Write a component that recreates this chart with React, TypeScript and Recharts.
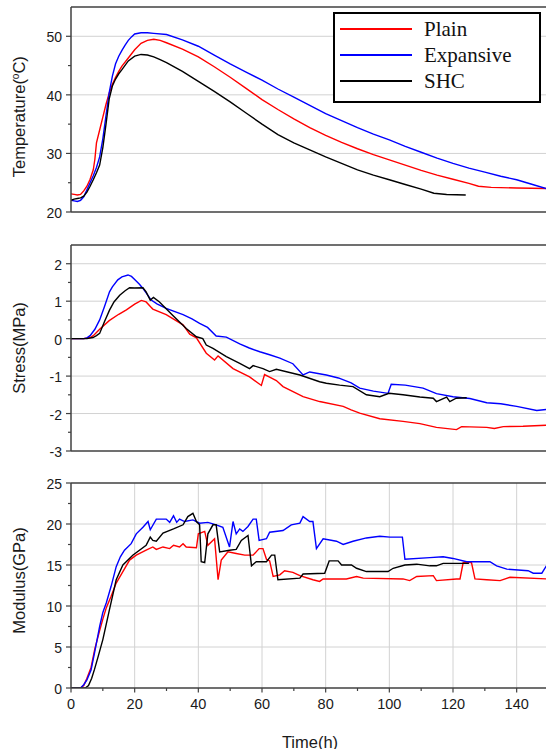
import React from 'react';
import { LineChart, Line, XAxis, YAxis, CartesianGrid, ReferenceLine } from 'recharts';

// ---------- series names / colours ----------
const seriesNames = ['Plain', 'Expansive', 'SHC'];
const seriesColors = ['#ff0000', '#0000ff', '#000000'];

// ---------- x axis ----------
const timeMajor = [0, 20, 40, 60, 80, 100, 120, 140];
const timeMinor = [10, 30, 50, 70, 90, 110, 130];
const timeGrid = [20, 40, 60, 80, 100, 120, 140];

// ---------- temperature panel ----------
const tempMajor = [20, 30, 40, 50];
const tempMinor = [25, 35, 45];
const tempGrid = [30, 40, 50];
const tempPlain = [[0,23.1],[1,23.0],[2,22.9],[3,23.0],[4,23.6],[5,24.4],[6,25.6],[7,27.2],[7.5,29],[8,31.8],[9,34],[10,36.2],[11,38.4],[12,40.3],[13,41.8],[14,43],[15,44],[16,44.9],[18,46.3],[20,47.7],[22,48.8],[24,49.3],[26,49.5],[28,49.3],[30,48.9],[35,47.8],[40,46.5],[45,44.8],[50,43.0],[55,41.1],[60,39.2],[65,37.5],[70,35.9],[75,34.4],[80,33.1],[85,31.9],[90,30.8],[95,29.8],[100,28.9],[105,28.0],[110,27.1],[115,26.3],[120,25.6],[125,24.9],[128,24.4],[132,24.2],[140,24.1],[150,24.0]];
const tempExpansive = [[0,22.0],[1,21.9],[2,21.8],[3,22.0],[4,22.6],[5,23.8],[6,25],[7,26.2],[8,27.6],[9,29.4],[10,32.5],[11,36.5],[12,40.4],[13,43.2],[14,45.3],[15,46.6],[16,47.6],[17,48.5],[18,49.3],[19,49.9],[20,50.4],[22,50.6],[24,50.6],[26,50.5],[30,50.3],[35,49.4],[40,48.3],[45,46.8],[50,45.3],[55,43.9],[60,42.5],[65,41.0],[70,39.6],[75,38.2],[80,36.8],[85,35.6],[90,34.4],[95,33.3],[100,32.3],[105,31.2],[110,30.2],[115,29.2],[120,28.3],[125,27.5],[130,26.8],[135,26.1],[140,25.5],[145,24.7],[150,23.9]];
const tempSHC = [[0,22.0],[1,22.2],[2,22.3],[3,22.4],[4,22.7],[5,23.4],[6,24.4],[7,25.5],[8,26.7],[9,28],[10,31],[11,35],[12,39.3],[13,41.5],[14,42.7],[15,43.6],[16,44.3],[18,45.8],[20,46.6],[22,46.9],[24,46.8],[26,46.5],[28,46.0],[30,45.5],[35,44.0],[40,42.3],[45,40.6],[50,38.8],[55,36.9],[60,35.0],[65,33.2],[70,31.8],[75,30.6],[80,29.4],[85,28.3],[90,27.2],[95,26.3],[100,25.5],[105,24.7],[110,23.9],[114,23.2],[118,23.0],[124,22.9]];

// ---------- stress panel ----------
const stressMajor = [-3, -2, -1, 0, 1, 2];
const stressMinor = [-2.5, -1.5, -0.5, 0.5, 1.5];
const stressGrid = [-2, -1, 0, 1, 2];
const stressPlain = [[0,0],[4,0],[6,0.03],[7,0.08],[9,0.25],[12,0.48],[15,0.65],[17.4,0.77],[20,0.92],[22.1,1.02],[23.6,0.98],[25,0.85],[25.7,0.79],[29.9,0.64],[35.2,0.37],[37.3,0.12],[39.4,0.02],[42.5,-0.39],[45.1,-0.57],[46.2,-0.46],[50.9,-0.8],[56.1,-1.02],[59.8,-1.25],[60.8,-0.96],[62.4,-1.03],[64.5,-1.12],[66.6,-1.28],[72.9,-1.55],[78.1,-1.68],[85.5,-1.81],[88,-1.9],[90.7,-1.99],[97,-2.14],[104.3,-2.21],[109.6,-2.27],[114.8,-2.37],[121.1,-2.43],[122.7,-2.35],[130.6,-2.37],[133,-2.4],[135.8,-2.35],[142,-2.34],[149.5,-2.31]];
const stressExpansive = [[0,0],[4,0],[5,0.02],[6,0.08],[7.5,0.25],[9,0.5],[10.5,0.85],[12.1,1.25],[13,1.38],[14.7,1.57],[16,1.65],[17.9,1.70],[19,1.66],[20,1.58],[21.5,1.45],[22.6,1.34],[25.2,1.03],[27,0.93],[29.9,0.81],[32,0.74],[35.2,0.64],[38,0.53],[40.4,0.41],[42.9,0.3],[45.6,0.07],[48.8,0.04],[53,-0.14],[56,-0.25],[59.3,-0.35],[62.4,-0.43],[65.6,-0.52],[69.7,-0.67],[72.9,-0.97],[75,-0.89],[80.2,-0.97],[84,-1.05],[88,-1.18],[90.7,-1.32],[95,-1.4],[99.6,-1.46],[100.6,-1.22],[105,-1.24],[110.6,-1.32],[114.8,-1.47],[120,-1.55],[125.3,-1.6],[130.6,-1.71],[135,-1.74],[140,-1.81],[146.3,-1.92],[149.5,-1.89]];
const stressSHC = [[0,0],[5,0],[6.9,0.03],[8,0.08],[9,0.14],[10.5,0.45],[12.1,0.76],[13.5,0.98],[15.3,1.16],[17,1.28],[18.4,1.36],[20,1.35],[22.6,1.36],[23.6,1.25],[24.9,1.03],[25.9,1.10],[27.8,0.98],[32,0.62],[36.2,0.27],[39.4,0.05],[41.4,0.0],[42.5,-0.17],[44.6,-0.26],[48.8,-0.48],[53,-0.66],[56.1,-0.8],[57.2,-0.72],[60.3,-0.8],[62.4,-0.88],[64.5,-0.82],[71.9,-0.97],[78.1,-1.15],[80.2,-1.19],[84.4,-1.24],[88.6,-1.28],[92.8,-1.5],[97,-1.55],[99.9,-1.46],[104.3,-1.5],[109.6,-1.56],[113.8,-1.59],[114.8,-1.68],[118,-1.56],[119,-1.68],[121,-1.59],[124.3,-1.58]];

// ---------- modulus panel ----------
const modMajor = [0, 5, 10, 15, 20, 25];
const modMinor = [2.5, 7.5, 12.5, 17.5, 22.5];
const modGrid = [5, 10, 15, 20];
const modPlain = [[0,0],[3,0],[4,0.3],[5,1.2],[6.3,2.5],[7.5,4.8],[9,7.0],[10,8.4],[11.1,9.8],[12.6,11.2],[14.2,12.8],[16.3,14.2],[18.4,15.6],[20.5,16.2],[23.6,16.8],[25.7,17.2],[26.8,16.9],[28.9,17.2],[31,17.0],[32.2,17.4],[34.1,17.2],[35.2,17.6],[36.2,17.2],[39.4,17.1],[40,18.8],[42,19.1],[43,17.4],[45.1,18.2],[46.2,13.2],[47.2,15.6],[49.3,16.6],[51.9,16.4],[54.6,16.2],[57.2,16.2],[59.1,17.0],[60.3,17.0],[61.4,15.7],[62.4,15.5],[63.5,13.6],[65.6,13.8],[67.1,14.3],[69.7,14.1],[71.9,13.7],[76,13.2],[78.1,13.0],[79.2,13.3],[86.5,13.3],[89.7,13.6],[91.8,13.4],[104.3,13.3],[106.4,13.1],[108.6,13.6],[113.8,13.7],[114.8,13.1],[121.1,13.3],[122.2,13.3],[123.2,15.3],[125.8,15.3],[126.9,13.3],[130.6,13.2],[134.8,13.1],[137.9,13.5],[149.5,13.3]];
const modExpansive = [[0,0],[3,0],[4,0.4],[5,1.0],[6.3,2.2],[7.5,4.5],[9,7.5],[10,9.2],[11.1,10.4],[12.6,12.4],[14.2,14.8],[15.5,16],[16.8,16.8],[18.9,17.6],[20.5,18.8],[22.6,19.6],[24.2,20.3],[24.9,19.3],[26.8,20.6],[29.9,20.6],[31,20.2],[32.2,21.0],[33.2,20.2],[34.1,20.6],[35.7,20.3],[38.3,20.5],[40.4,20.1],[43,20.2],[45.6,19.9],[47.7,19.6],[49.8,17.2],[50.9,20.3],[51.9,18.8],[53,19.4],[54,19.1],[55.6,19.7],[57.2,20.6],[58.2,20.6],[59.1,18.0],[61.4,18.2],[62.4,19.0],[66.6,19.2],[69.2,19.9],[71.9,20.1],[72.9,20.9],[75,20.3],[76,20.3],[77.1,17.0],[79.2,18.2],[83.4,17.9],[85.5,17.5],[88.6,17.9],[92.8,18.3],[97,18.5],[100.2,18.4],[104.1,18.4],[104.9,15.7],[112.7,15.9],[116.9,16.0],[120,15.8],[124.3,15.4],[131.6,15.4],[133.7,14.9],[136.9,14.5],[143.6,14.3],[145.2,14.0],[147.9,14.0],[149.5,15.0]];
const modSHC = [[0,0],[4.5,0],[5.5,0.3],[6.5,1.2],[7.4,2.3],[8.5,3.8],[10,5.9],[12.1,9.6],[14.2,13.2],[16.3,15.0],[19.4,16.2],[23.6,17.4],[24.9,18.4],[25.7,18.0],[26.8,17.9],[28.9,18.9],[32.2,19.4],[35.2,19.9],[36.7,20.9],[38.3,21.3],[39.4,20.3],[40.4,19.9],[40.9,15.4],[42,15.3],[43,18.8],[44.6,19.9],[45.6,19.9],[46.7,16.6],[49.8,16.8],[51.9,16.9],[53.5,18.0],[55.6,18.6],[56.7,14.9],[58.2,15.4],[61.4,15.4],[63,16.2],[64,16.2],[65,13.2],[71.9,13.4],[72.9,13.9],[79.7,14.0],[81.1,15.5],[83.9,15.5],[85,15.0],[88.1,15.0],[89.7,14.6],[92.8,14.2],[99.6,14.2],[101.2,14.6],[104.9,15.0],[108.6,15.1],[112.7,14.9],[114.8,14.9],[116.9,15.2],[125,15.2]];

const AXIS = '#404040';
const GRID = '#d2d2d2';
const SANS = '"Liberation Sans", Arial, Helvetica, sans-serif';
const SERIF = '"Liberation Serif", "Times New Roman", serif';

const toPts = (arr: number[][]) => arr.map(([t, v]) => ({ t, v }));

const makeYTick = (majors: number[]) => (props: any) => {
  const { x, y, payload } = props;
  const isMajor = majors.includes(payload.value);
  return (
    <g>
      <line x1={x} x2={x - (isMajor ? 5 : 3)} y1={y} y2={y} stroke={AXIS} strokeWidth={1.2} />
      {isMajor && (
        <text x={x - 9} y={y} dy={6} textAnchor="end" fontSize={14} fill="#1a1a1a" fontFamily={SANS}>
          {payload.value}
        </text>
      )}
    </g>
  );
};

const makeXTick = (majors: number[]) => (props: any) => {
  const { x, y, payload } = props;
  const isMajor = majors.includes(payload.value);
  return (
    <g>
      <line x1={x} x2={x} y1={y} y2={y + (isMajor ? 4.5 : 3)} stroke={AXIS} strokeWidth={1.2} />
      {isMajor && (
        <text x={x} y={y} dy={21} textAnchor="middle" fontSize={14.5} fill="#1a1a1a" fontFamily={SANS}>
          {payload.value}
        </text>
      )}
    </g>
  );
};

const yTitle = (cy: number, content: React.ReactNode) => () => (
  <text
    transform={`translate(24.5, ${cy}) rotate(-90)`}
    textAnchor="middle"
    fontSize={16.5}
    fill="#1a1a1a"
    fontFamily={SANS}
  >
    {content}
  </text>
);

type PanelProps = {
  top: number;
  height: number;
  xAxisHeight: number;
  yDomain: [number, number];
  yMajor: number[];
  yMinor: number[];
  yGrid: number[];
  series: number[][][];
  title: () => React.ReactNode;
  showXLabels: boolean;
};

const Panel = ({ top, height, xAxisHeight, yDomain, yMajor, yMinor, yGrid, series, title, showXLabels }: PanelProps) => (
  <div style={{ position: 'absolute', left: 0, top }}>
    <LineChart width={550} height={height} margin={{ top: 7, right: 1.5, bottom: 0, left: 0 }}>
      <CartesianGrid stroke={GRID} strokeWidth={1} horizontalValues={yGrid} verticalValues={timeGrid} />
      <XAxis
        type="number"
        dataKey="t"
        domain={[0, 150]}
        ticks={showXLabels ? [...timeMajor, ...timeMinor].sort((a, b) => a - b) : timeMajor}
        interval={0}
        height={xAxisHeight}
        tickSize={0}
        tickMargin={0}
        tickLine={false}
        tick={showXLabels ? makeXTick(timeMajor) : false}
        axisLine={{ stroke: AXIS, strokeWidth: 1.5 }}
        allowDataOverflow
        label={
          showXLabels
            ? () => (
                <text x={310} y={271.5} textAnchor="middle" fontSize={16.5} fill="#1a1a1a" fontFamily={SANS}>
                  Time(h)
                </text>
              )
            : undefined
        }
      />
      <YAxis
        type="number"
        domain={yDomain}
        ticks={[...yMajor, ...yMinor].sort((a, b) => a - b)}
        interval={0}
        width={71}
        tickSize={0}
        tickMargin={0}
        tickLine={false}
        tick={makeYTick(yMajor)}
        axisLine={{ stroke: AXIS, strokeWidth: 1.5 }}
        allowDataOverflow
        label={title}
      />
      <ReferenceLine y={yDomain[1]} stroke={AXIS} strokeWidth={1.5} />
      {series.map((s, i) => (
        <Line
          key={seriesNames[i]}
          name={seriesNames[i]}
          data={toPts(s)}
          dataKey="v"
          type="linear"
          stroke={seriesColors[i]}
          strokeWidth={1.4}
          dot={false}
          activeDot={false}
          isAnimationActive={false}
        />
      ))}
    </LineChart>
  </div>
);

const LegendBox = () => (
  <div
    style={{
      position: 'absolute',
      left: 333,
      top: 11.5,
      width: 203.5,
      height: 87,
      border: '2px solid #000',
      background: '#fff',
      fontFamily: SERIF,
      fontSize: 21,
      color: '#111',
    }}
  >
    {seriesNames.map((name, i) => (
      <div
        key={name}
        style={{
          position: 'absolute',
          left: 0,
          top: 3.5 + i * 25.8,
          height: 24,
          width: '100%',
          display: 'flex',
          alignItems: 'center',
        }}
      >
        <div style={{ position: 'absolute', left: 5, width: 72, height: 2, background: seriesColors[i] }} />
        <span style={{ position: 'absolute', left: 89, lineHeight: '24px', whiteSpace: 'nowrap' }}>{name}</span>
      </div>
    ))}
  </div>
);

export default function App() {
  return (
    <div style={{ position: 'absolute', left: 0, top: 0, width: 546, height: 749, overflow: 'hidden', background: '#fff' }}>
      <Panel
        top={0}
        height={220}
        xAxisHeight={8}
        yDomain={[20, 55]}
        yMajor={tempMajor}
        yMinor={tempMinor}
        yGrid={tempGrid}
        series={[tempPlain, tempExpansive, tempSHC]}
        showXLabels={false}
        title={yTitle(116.7, (
          <>
            Temperature(
            <tspan dy={-6} fontSize={10}>o</tspan>
            <tspan dy={6}>C)</tspan>
          </>
        ))}
      />
      <Panel
        top={238}
        height={221}
        xAxisHeight={8}
        yDomain={[-3, 2.5]}
        yMajor={stressMajor}
        yMinor={stressMinor}
        yGrid={stressGrid}
        series={[stressPlain, stressExpansive, stressSHC]}
        showXLabels={false}
        title={yTitle(110, 'Stress(MPa)')}
      />
      <Panel
        top={475.5}
        height={273.5}
        xAxisHeight={61.5}
        yDomain={[0, 25]}
        yMajor={modMajor}
        yMinor={modMinor}
        yGrid={modGrid}
        series={[modPlain, modExpansive, modSHC]}
        showXLabels={true}
        title={yTitle(104.5, 'Modulus(GPa)')}
      />
      <LegendBox />
    </div>
  );
}
